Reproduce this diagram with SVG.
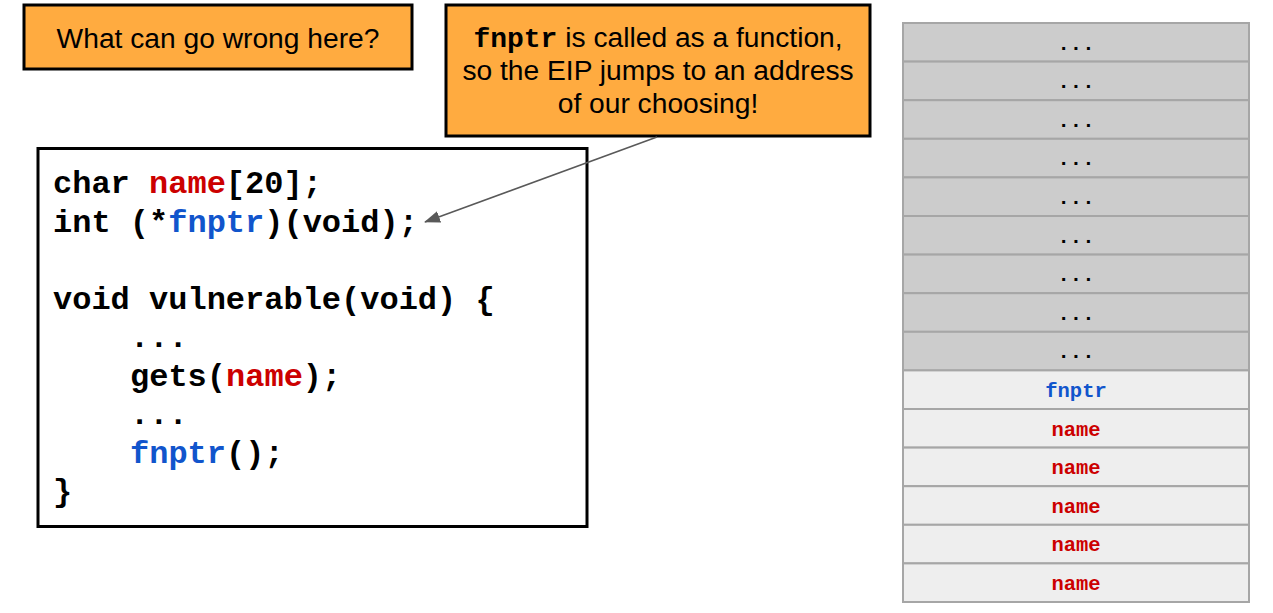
<svg xmlns="http://www.w3.org/2000/svg" width="1273" height="613" viewBox="0 0 1273 613">
<style>
.box{fill:#ffab40;stroke:#000;stroke-width:3}
.sans{font-family:"Liberation Sans",Arial,sans-serif;font-size:28.2px;fill:#000}
.mono{font-family:"Liberation Mono","Courier New",monospace;font-weight:bold}
.code{font-size:32px;fill:#000}
.st{font-size:20.5px;text-anchor:middle}
.red{fill:#cc0000}
.blue{fill:#1155cc}
.dark{fill:#000}
.cg{fill:#cccccc;stroke:#a6a6a6;stroke-width:2}
.cl{fill:#eeeeee;stroke:#a6a6a6;stroke-width:2}
.conn{stroke:#595959;stroke-width:1.5;fill:none}
</style>
<defs>
<marker id="ah" markerUnits="userSpaceOnUse" markerWidth="16" markerHeight="12" refX="15" refY="6" orient="auto">
<path d="M0,0 L16,6 L0,12 Z" fill="#595959"/>
</marker>
</defs>
<rect width="1273" height="613" fill="#fff"/>

<g id="question">
<rect class="box" x="24" y="5" width="388" height="64"/>
<text class="sans" x="218" y="47.5" text-anchor="middle">What can go wrong here?</text>
</g>

<g id="callout">
<rect class="box" x="446" y="5" width="424" height="131"/>
<text class="sans" x="658" y="47" text-anchor="middle"><tspan class="mono" font-size="28px">fnptr</tspan> is called as a function,</text>
<text class="sans" x="658" y="80" text-anchor="middle">so the EIP jumps to an address</text>
<text class="sans" x="658" y="113" text-anchor="middle">of our choosing!</text>
</g>

<g id="code">
<rect x="38" y="148.5" width="549" height="378" fill="#fff" stroke="#000" stroke-width="3"/>
<text class="mono code" x="53" y="193">char <tspan class="red">name</tspan>[20];</text>
<text class="mono code" x="53" y="231.5">int (*<tspan class="blue">fnptr</tspan>)(void);</text>
<text class="mono code" x="53" y="308.5">void vulnerable(void) {</text>
<text class="mono code" x="130" y="347">...</text>
<text class="mono code" x="130" y="385.5">gets(<tspan class="red">name</tspan>);</text>
<text class="mono code" x="130" y="424">...</text>
<text class="mono code" x="130" y="462.5"><tspan class="blue">fnptr</tspan>();</text>
<text class="mono code" x="53" y="501">}</text>
</g>

<g id="stack">
<g id="cell0"><rect class="cg" x="903" y="23" width="346" height="38.6"/><text class="mono st dark" x="1076" y="49.5">...</text></g>
<g id="cell1"><rect class="cg" x="903" y="61.6" width="346" height="38.6"/><text class="mono st dark" x="1076" y="88.1">...</text></g>
<g id="cell2"><rect class="cg" x="903" y="100.2" width="346" height="38.6"/><text class="mono st dark" x="1076" y="126.7">...</text></g>
<g id="cell3"><rect class="cg" x="903" y="138.8" width="346" height="38.6"/><text class="mono st dark" x="1076" y="165.3">...</text></g>
<g id="cell4"><rect class="cg" x="903" y="177.4" width="346" height="38.6"/><text class="mono st dark" x="1076" y="203.9">...</text></g>
<g id="cell5"><rect class="cg" x="903" y="216" width="346" height="38.6"/><text class="mono st dark" x="1076" y="242.5">...</text></g>
<g id="cell6"><rect class="cg" x="903" y="254.6" width="346" height="38.6"/><text class="mono st dark" x="1076" y="281.1">...</text></g>
<g id="cell7"><rect class="cg" x="903" y="293.2" width="346" height="38.6"/><text class="mono st dark" x="1076" y="319.7">...</text></g>
<g id="cell8"><rect class="cg" x="903" y="331.8" width="346" height="38.6"/><text class="mono st dark" x="1076" y="358.3">...</text></g>
<g id="cell9"><rect class="cl" x="903" y="370.4" width="346" height="38.6"/><text class="mono st blue" x="1076" y="396.9">fnptr</text></g>
<g id="cell10"><rect class="cl" x="903" y="409" width="346" height="38.6"/><text class="mono st red" x="1076" y="435.5">name</text></g>
<g id="cell11"><rect class="cl" x="903" y="447.6" width="346" height="38.6"/><text class="mono st red" x="1076" y="474.1">name</text></g>
<g id="cell12"><rect class="cl" x="903" y="486.2" width="346" height="38.6"/><text class="mono st red" x="1076" y="512.7">name</text></g>
<g id="cell13"><rect class="cl" x="903" y="524.8" width="346" height="38.6"/><text class="mono st red" x="1076" y="551.3">name</text></g>
<g id="cell14"><rect class="cl" x="903" y="563.4" width="346" height="38.6"/><text class="mono st red" x="1076" y="589.9">name</text></g>
</g>

<g id="connectors">
<line class="conn" x1="657" y1="137" x2="425" y2="222" marker-end="url(#ah)"/>
</g>
</svg>
